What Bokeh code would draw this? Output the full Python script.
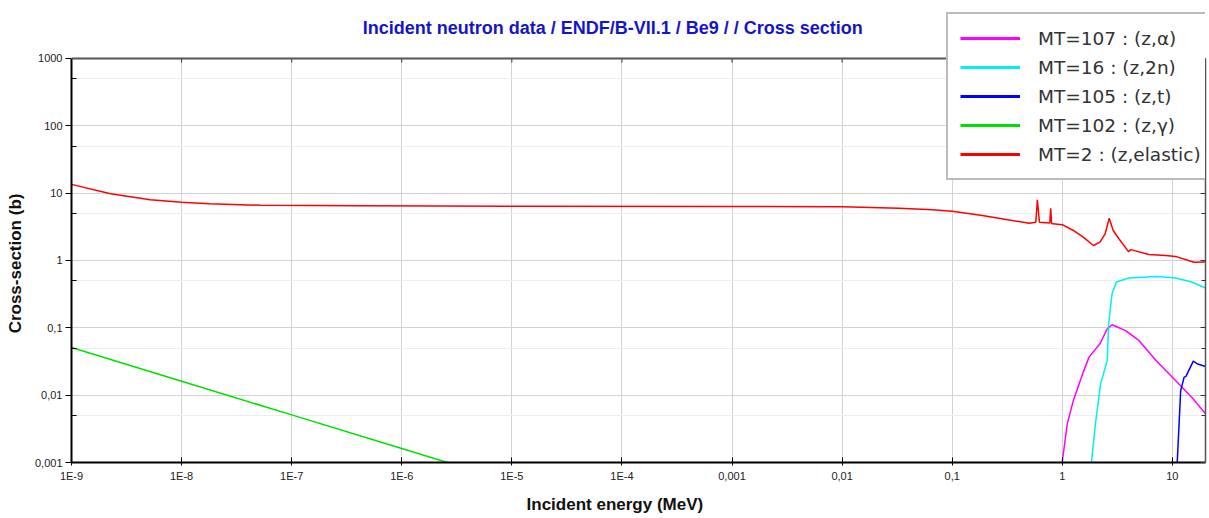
from bokeh.plotting import figure
from bokeh.models import (FixedTicker, LogAxis, Legend, LegendItem, Label,
                          Range1d, CustomJSTickFormatter, BoxAnnotation, Span)
from bokeh.embed import file_html
from bokeh.resources import INLINE

# ---- axis ticks -------------------------------------------------------
x_ticks = [1e-9, 1e-8, 1e-7, 1e-6, 1e-5, 1e-4, 1e-3, 1e-2, 1e-1, 1, 10]
x_tick_labels = ["1E-9", "1E-8", "1E-7", "1E-6", "1E-5", "1E-4",
                 "0,001", "0,01", "0,1", "1", "10"]
y_ticks = [1e-3, 1e-2, 1e-1, 1, 10, 100, 1000]
y_tick_labels = ["0,001", "0,01", "0,1", "1", "10", "100", "1000"]
y_minor_ticks = [5e-3, 5e-2, 0.5, 5, 50, 500]

# ---- Be9 cross sections (energy in MeV, cross section in barns) ------
elastic_e = [1e-9, 2.26e-9, 5.2e-9, 1e-8, 1.8e-8, 5.2e-8, 4.2e-7, 1e-5,
             1e-3, 1e-2, 0.033, 0.066, 0.1, 0.188, 0.3, 0.5, 0.575, 0.594,
             0.62, 0.77, 0.785, 0.80, 0.82, 1.0, 1.26, 1.55, 1.92, 2.2,
             2.45, 2.67, 2.9, 3.27, 3.89, 4.0, 4.2, 6.1, 8.7, 10.7, 15.7, 20]
elastic_xs = [13.5, 9.8, 8.0, 7.3, 6.95, 6.6, 6.5, 6.4,
              6.35, 6.3, 5.98, 5.66, 5.4, 4.65, 4.1, 3.58, 3.7, 7.98,
              3.7, 3.6, 5.97, 3.55, 3.5, 3.4, 2.79, 2.22, 1.67, 1.87,
              2.49, 4.25, 2.79, 2.10, 1.44, 1.35, 1.45, 1.23, 1.19, 1.15, 0.94, 0.95]

n2n_e = [1.80, 2.0, 2.23, 2.56, 2.64, 2.83, 3.1, 4.0, 7.1, 10.7, 15, 20]
n2n_xs = [0.0007, 0.00375, 0.0147, 0.0327, 0.115, 0.32, 0.48, 0.548,
          0.578, 0.548, 0.48, 0.39]

alpha_e = [0.98, 1.11, 1.26, 1.53, 1.75, 2.2, 2.56, 2.83, 3.76, 4.97,
           7.1, 10.0, 15, 20]
alpha_xs = [0.0008, 0.00375, 0.0083, 0.0207, 0.0367, 0.058, 0.0966, 0.111,
            0.091, 0.065, 0.0327, 0.0185, 0.0093, 0.0053]

triton_e = [11.0, 11.9, 12.8, 13.3, 15.5, 17, 20]
triton_xs = [0.0008, 0.0117, 0.0185, 0.019, 0.032, 0.029, 0.0267]

capture_e = [1e-9, 1e-8, 1e-7, 1e-6, 1e-5]
capture_xs = [0.051, 0.0161, 0.0051, 0.00161, 0.00051]

series = [
    ("MT=107 : (z,\u03b1)", alpha_e, alpha_xs, "#ff00ff"),
    ("MT=16 : (z,2n)", n2n_e, n2n_xs, "#00f0f0"),
    ("MT=105 : (z,t)", triton_e, triton_xs, "#0000ff"),
    ("MT=102 : (z,\u03b3)", capture_e, capture_xs, "#00e000"),
    ("MT=2 : (z,elastic)", elastic_e, elastic_xs, "#ff0000"),
]

Y_MIN, Y_MAX = 1e-3, 1000
# the frame reaches up into the header band so the legend box can overlap it
Y_TOP = 10 ** 3.683
NBSP = "\u00a0"

p = figure(width=1209, height=518, x_axis_type="log", y_axis_type="log",
           x_range=Range1d(1e-9, 20), y_range=Range1d(Y_MIN, Y_TOP),
           output_backend="svg", toolbar_location=None,
           min_border_left=71, min_border_right=4,
           min_border_top=12, min_border_bottom=56,
           background_fill_color="white", border_fill_color="white")
p.outline_line_color = None


def log_formatter(vals, labs):
    return CustomJSTickFormatter(args=dict(vals=vals, labs=labs), code="""
        let best = 0, d = Infinity;
        for (let i = 0; i < vals.length; i++) {
            const e = Math.abs(Math.log10(tick) - Math.log10(vals[i]));
            if (e < d) { d = e; best = i; }
        }
        return labs[best];
    """)


x_ticker = FixedTicker(ticks=x_ticks, minor_ticks=[])
y_ticker = FixedTicker(ticks=y_ticks, minor_ticks=y_minor_ticks)

xa = p.xaxis[0]
xa.ticker = x_ticker
xa.formatter = log_formatter(x_ticks, x_tick_labels)
xa.axis_line_color = "black"
xa.axis_line_width = 2
xa.major_tick_in = 5
xa.major_tick_out = 3
xa.major_tick_line_color = "black"
xa.minor_tick_line_color = None
xa.major_label_standoff = 4
xa.major_label_text_font = "Liberation Sans"
xa.major_label_text_font_size = "11px"
xa.major_label_text_color = "#222222"
# trailing blanks shift the centred caption a little to the left
xa.axis_label = "Incident energy (MeV)" + NBSP * 10
xa.axis_label_text_font = "Liberation Sans"
xa.axis_label_text_font_style = "bold"
xa.axis_label_text_font_size = "17px"
xa.axis_label_text_color = "#111111"
xa.axis_label_standoff = 10

ya = p.yaxis[0]
ya.ticker = y_ticker
ya.bounds = (Y_MIN, Y_MAX)
ya.formatter = log_formatter(y_ticks, y_tick_labels)
ya.axis_line_color = "black"
ya.axis_line_width = 2
ya.major_tick_in = 0
ya.major_tick_out = 6
ya.minor_tick_in = 5
ya.minor_tick_out = 0
ya.major_tick_line_color = "black"
ya.minor_tick_line_color = "black"
ya.major_label_standoff = 3
ya.major_label_text_font = "Liberation Sans"
ya.major_label_text_font_size = "11px"
ya.major_label_text_color = "#222222"
# trailing blanks centre the caption on the 0.001-1000 span
ya.axis_label = "Cross-section (b)" + NBSP * 11
ya.axis_label_text_font = "Liberation Sans"
ya.axis_label_text_font_style = "bold"
ya.axis_label_text_font_size = "17px"
ya.axis_label_text_color = "#111111"
ya.axis_label_standoff = 7

# right edge of the frame with inward ticks (no labels)
right = LogAxis(ticker=y_ticker, bounds=(Y_MIN, Y_MAX),
                major_tick_in=5, major_tick_out=0,
                minor_tick_in=4, minor_tick_out=0,
                axis_line_color="#555555", axis_line_width=1.5,
                major_label_text_font_size="2px", major_label_text_color=None,
                major_label_standoff=0,
                major_tick_line_color="#333333", minor_tick_line_color="#333333")
p.add_layout(right, "right")

p.xgrid.grid_line_color = "#d2d2d2"
p.xgrid.ticker = x_ticker
p.ygrid.grid_line_color = "#d2d2d2"
p.ygrid.ticker = y_ticker
p.ygrid.minor_grid_line_color = "#eeeeee"

# blank header band above the 1000 b line, then the top edge of the frame
p.add_layout(BoxAnnotation(bottom=Y_MAX, fill_color="white", fill_alpha=1,
                           line_color=None))
p.add_layout(Span(location=Y_MAX, dimension="width", line_color="#555555",
                  line_width=2))
# short inward ticks along the top edge at each decade
p.segment(x0=x_ticks, x1=x_ticks, y0=[Y_MAX * 10 ** -0.06] * len(x_ticks),
          y1=[Y_MAX] * len(x_ticks), line_color="#333333", line_width=1)

nan = float("nan")
items = []
for name, e, xs, color in series:
    p.line(e, xs, line_color=color, line_width=1.5)
    # thicker sample line for the legend entry (nothing drawn in the frame)
    key = p.line([nan], [nan], line_color=color, line_width=3)
    items.append(LegendItem(label=name, renderers=[key]))

legend = Legend(items=items, location=(875, 282),
                border_line_color="#777777", border_line_width=2,
                background_fill_color="white", background_fill_alpha=1,
                label_text_font="DejaVu Sans", label_text_font_size="18.5px",
                label_text_color="#333333",
                glyph_width=60, glyph_height=24, label_height=24,
                label_standoff=18, label_width=190,
                padding=12, spacing=5, margin=0)
p.add_layout(legend, "center")

title = Label(x=10 ** -4.084, y=10 ** 3.46,
              text="Incident neutron data / ENDF/B-VII.1 / Be9 / / Cross section",
              text_align="center", text_baseline="middle",
              text_font="Liberation Sans", text_font_style="bold",
              text_font_size="18px", text_color="#1515c8")
p.add_layout(title)

open("out.html", "w").write(file_html(p, INLINE))
